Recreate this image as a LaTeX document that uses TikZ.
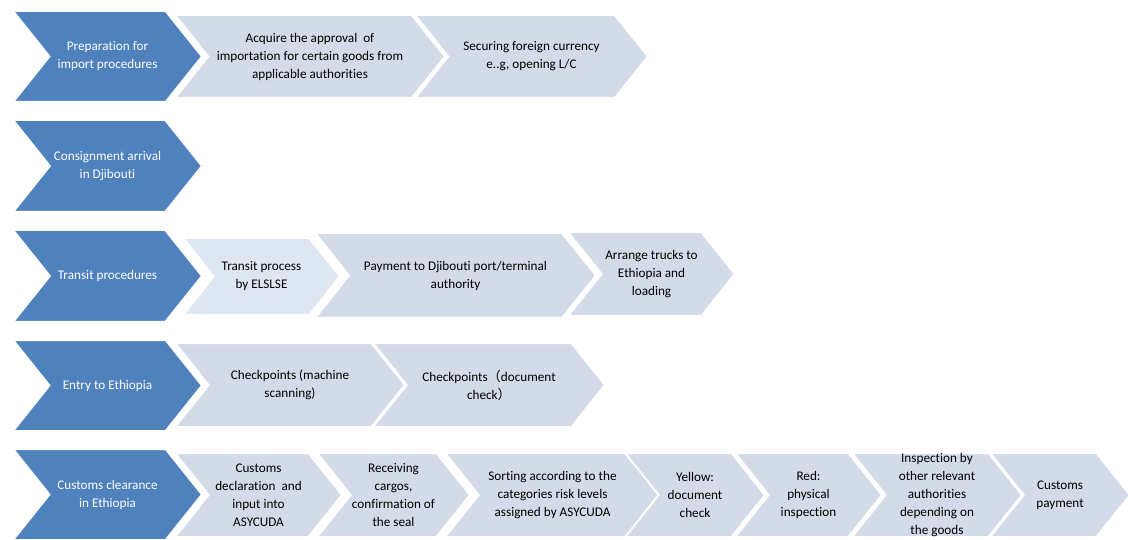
\documentclass[tikz,border=0pt]{standalone}
\usepackage{fontspec}
\setmainfont{Carlito}[Ligatures=NoCommon]
\newfontfamily\cjkfont{Noto Sans CJK SC}
\definecolor{accblue}{HTML}{4F81BD}
\definecolor{chevlight}{HTML}{D3DAE8}
\definecolor{chevpale}{HTML}{DEE6F2}
% #1 name, #2 shape style, #3 label style, #4 x left, #5 x tip, #6 top, #7 bottom, #8 text
\newcommand\mychev[8]{%
  \pgfmathsetmacro\chd{0.4*(#7-#6)}%
  \pgfmathsetmacro\chm{(#6+#7)/2}%
  \path[#2] (#4,#6) -- ({#5-\chd},#6) -- (#5,\chm) -- ({#5-\chd},#7) -- (#4,#7) -- ({#4+\chd},\chm) -- cycle;
  \node[#3] (#1) at ({(#4+#5)/2},\chm) {#8};
}
\begin{document}
\begin{tikzpicture}[x=1pt,y=-1pt,
  bluechev/.style={fill=accblue,draw=white,line width=2pt},
  lightchev/.style={fill=chevlight,draw=white,line width=2pt},
  palechev/.style={fill=chevpale,draw=white,line width=2pt},
  lbl/.style={align=center,font=\fontsize{13.2}{18}\selectfont,text=black,inner sep=0pt},
  wlbl/.style={lbl,text=white}]
\useasboundingbox[fill=white] (0,0) rectangle (1128,540);
% Row 1
\mychev{a2}{lightchev}{lbl}{175}{445}{15}{98}{Acquire the approval\ \ of\\importation for certain goods from\\applicable authorities}
\mychev{a3}{lightchev}{lbl}{415}{648}{15}{98}{Securing foreign currency\\e..g, opening L/C}
\mychev{a1}{bluechev}{wlbl}{13}{202}{11}{102}{Preparation for\\import procedures}
% Row 2
\mychev{b1}{bluechev}{wlbl}{13}{202}{120}{212}{Consignment arrival\\in Djibouti}
% Row 3
\mychev{c2}{palechev}{lbl}{183}{340}{238}{315}{Transit process\\by ELSLSE}
\mychev{c3}{lightchev}{lbl}{315}{596}{233}{318}{Payment to Djibouti port/terminal\\authority}
\mychev{c4}{lightchev}{lbl}{568}{735}{232}{316}{Arrange trucks to\\Ethiopia and\\loading}
\mychev{c1}{bluechev}{wlbl}{13}{202}{230}{322}{Transit procedures}
% Row 4
\mychev{d2}{lightchev}{lbl}{175}{405}{343}{427}{Checkpoints (machine\\scanning)}
\mychev{d3}{lightchev}{lbl}{373}{605}{343}{427}{Checkpoints{\cjkfont （}document\\check{\cjkfont ）}}
\mychev{d1}{bluechev}{wlbl}{13}{202}{340}{431}{Entry to Ethiopia}
% Row 5
\mychev{e2}{lightchev}{lbl}{175}{342}{453}{537}{Customs\\declaration\ \ and\\input into\\ASYCUDA}
\mychev{e3}{lightchev}{lbl}{317}{470}{453}{537}{Receiving\\cargos,\\confirmation of\\the seal}
\mychev{e4}{lightchev}{lbl}{445}{660}{453}{537}{Sorting according to the\\categories risk levels\\assigned by ASYCUDA}
\mychev{e5}{lightchev}{lbl}{625}{765}{453}{537}{Yellow:\\document\\check}
\mychev{e6}{lightchev}{lbl}{735}{882}{453}{537}{Red:\\physical\\inspection}
\mychev{e7}{lightchev}{lbl}{852}{1022}{453}{537}{Inspection by\\other relevant\\authorities\\depending on\\the goods}
\mychev{e8}{lightchev}{lbl}{990}{1130}{453}{537}{Customs\\payment}
\mychev{e1}{bluechev}{wlbl}{13}{202}{449}{540}{Customs clearance\\in Ethiopia}
\end{tikzpicture}
\end{document}
